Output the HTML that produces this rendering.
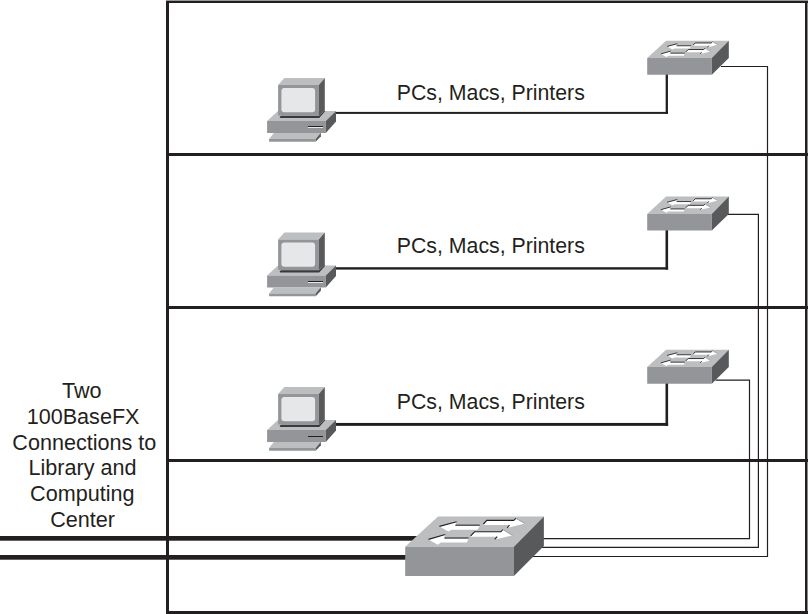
<!DOCTYPE html>
<html><head><meta charset="utf-8"><style>
html,body{margin:0;padding:0;background:#fff;width:808px;height:614px;overflow:hidden}
svg{display:block}
.t{font-family:"Liberation Sans",sans-serif;font-size:21.3px;fill:#231f20}
</style></head><body>
<svg width="808" height="614" viewBox="0 0 808 614">
<rect x="166" y="1" width="3" height="613" fill="#231f20"/>
<rect x="805" y="1" width="2" height="613" fill="#231f20"/>
<rect x="807" y="0" width="1" height="614" fill="#8a8889"/>
<rect x="166" y="0" width="642" height="1" fill="#9a9899"/>
<rect x="166" y="1" width="642" height="2" fill="#231f20"/>
<rect x="166" y="611" width="642" height="3" fill="#231f20"/>
<rect x="166" y="153" width="642" height="3" fill="#231f20"/>
<rect x="166" y="306" width="642" height="3" fill="#231f20"/>
<rect x="166" y="459" width="642" height="3" fill="#231f20"/>
<polyline points="721.00,66.50 767.50,66.50 767.50,556.50 533.00,556.50" fill="none" stroke="#231f20" stroke-width="1.20"/>
<polyline points="727.50,214.40 758.40,214.40 758.40,547.40 540.00,547.40" fill="none" stroke="#231f20" stroke-width="1.20"/>
<polyline points="715.50,380.20 749.50,380.20 749.50,538.70 540.00,538.70" fill="none" stroke="#231f20" stroke-width="1.20"/>
<rect x="0" y="536" width="420" height="4.7" fill="#231f20"/>
<rect x="0" y="555" width="420" height="4.7" fill="#231f20"/>
<rect x="336" y="111.90" width="331.95" height="2.00" fill="#231f20"/>
<rect x="665.65" y="70.00" width="2.30" height="43.90" fill="#231f20"/>
<polygon points="267.10,121.00 278.00,110.90 336.00,111.10 325.80,121.00" fill="#bcbec0"/>
<polygon points="267.10,121.00 325.80,121.00 325.80,133.00 267.10,133.00" fill="#939598"/>
<polygon points="325.80,121.00 336.00,111.10 336.00,121.50 325.80,133.00" fill="#58595b"/>
<rect x="308" y="126.00" width="15" height="1" fill="#231f20"/>
<rect x="308" y="127.00" width="15" height="1" fill="#e8e8e9"/>
<polygon points="279.60,117.10 281.00,115.80 319.00,115.80 324.80,110.50 325.20,111.30 319.20,117.90 280.20,117.90" fill="#3a3a3c"/>
<polygon points="278.10,85.10 284.40,78.10 324.80,78.10 318.80,85.10" fill="#bcbec0"/>
<polygon points="278.10,85.10 318.80,85.10 318.80,115.60 278.10,115.60" fill="#939598"/>
<polygon points="318.80,85.10 324.80,78.10 324.80,110.50 318.80,115.60" fill="#58595b"/>
<rect x="281.40" y="87.90" width="33.7" height="24.3" rx="3" ry="3" fill="#e6e7e8"/>
<polygon points="273.80,133.00 320.90,133.00 315.70,139.00 269.10,139.00" fill="#bcbec0"/>
<polygon points="269.10,139.00 315.70,139.00 315.70,141.70 269.10,141.70" fill="#939598"/>
<polygon points="315.70,139.00 320.90,132.80 320.90,136.20 315.70,141.70" fill="#58595b"/>
<polygon points="647.20,58.10 666.10,40.80 728.80,40.80 711.80,58.10" fill="#bcbec0"/>
<polygon points="647.20,58.10 711.80,58.10 711.80,74.80 647.20,74.80" fill="#939598"/>
<polygon points="711.80,58.10 728.80,40.80 728.80,58.10 711.80,74.80" fill="#58595b"/>
<polygon points="667.13,46.43 677.31,43.73 676.50,46.03 691.18,46.03 689.83,48.39 674.38,48.39 672.58,49.42" fill="#ffffff"/>
<polygon points="693.24,45.57 695.18,42.98 711.16,42.98 712.43,41.83 717.88,44.71 707.45,47.35 708.76,45.63 693.25,45.63" fill="#ffffff"/>
<polygon points="660.90,53.90 670.73,51.09 670.28,53.39 684.78,53.39 683.73,55.69 668.33,55.69 666.53,56.95" fill="#ffffff"/>
<polygon points="685.87,52.35 688.15,49.54 703.78,49.54 704.86,48.21 710.69,51.61 700.31,53.90 701.68,52.35" fill="#ffffff"/>
<polyline points="667.13,46.43 677.31,43.73" fill="none" stroke="#231f20" stroke-width="0.88"/>
<polyline points="676.61,45.74 691.11,45.74" fill="none" stroke="#454547" stroke-width="1.04"/>
<polyline points="693.23,45.05 695.18,42.98 711.16,42.98 712.43,41.83" fill="none" stroke="#231f20" stroke-width="0.88"/>
<polyline points="708.76,45.63 707.45,47.35" fill="none" stroke="#231f20" stroke-width="0.88"/>
<polyline points="660.90,53.90 670.73,51.09" fill="none" stroke="#231f20" stroke-width="0.88"/>
<polyline points="670.33,53.10 684.71,53.10" fill="none" stroke="#454547" stroke-width="1.04"/>
<polyline points="685.85,51.89 688.15,49.54 703.78,49.54 704.86,48.21" fill="none" stroke="#231f20" stroke-width="0.88"/>
<polyline points="701.68,52.35 700.31,53.90" fill="none" stroke="#231f20" stroke-width="0.88"/>
<polyline points="712.61,41.95 717.88,44.71" fill="none" stroke="#77787a" stroke-width="0.48"/>
<polyline points="705.05,48.33 710.69,51.61" fill="none" stroke="#77787a" stroke-width="0.48"/>
<text transform="translate(490.8,99.9) scale(1,1.070)" text-anchor="middle" class="t">PCs, Macs, Printers</text>
<rect x="336" y="267.20" width="332.10" height="2.40" fill="#231f20"/>
<rect x="665.50" y="225.80" width="2.60" height="43.80" fill="#231f20"/>
<polygon points="267.10,275.50 278.00,265.40 336.00,265.60 325.80,275.50" fill="#bcbec0"/>
<polygon points="267.10,275.50 325.80,275.50 325.80,287.50 267.10,287.50" fill="#939598"/>
<polygon points="325.80,275.50 336.00,265.60 336.00,276.00 325.80,287.50" fill="#58595b"/>
<rect x="308" y="281.00" width="15" height="1" fill="#231f20"/>
<rect x="308" y="282.00" width="15" height="1" fill="#e8e8e9"/>
<polygon points="279.60,271.60 281.00,270.30 319.00,270.30 324.80,265.00 325.20,265.80 319.20,272.40 280.20,272.40" fill="#3a3a3c"/>
<polygon points="278.10,239.60 284.40,232.60 324.80,232.60 318.80,239.60" fill="#bcbec0"/>
<polygon points="278.10,239.60 318.80,239.60 318.80,270.10 278.10,270.10" fill="#939598"/>
<polygon points="318.80,239.60 324.80,232.60 324.80,265.00 318.80,270.10" fill="#58595b"/>
<rect x="281.40" y="242.40" width="33.7" height="24.3" rx="3" ry="3" fill="#e6e7e8"/>
<polygon points="273.80,287.50 320.90,287.50 315.70,293.50 269.10,293.50" fill="#bcbec0"/>
<polygon points="269.10,293.50 315.70,293.50 315.70,296.20 269.10,296.20" fill="#939598"/>
<polygon points="315.70,293.50 320.90,287.30 320.90,290.70 315.70,296.20" fill="#58595b"/>
<polygon points="647.20,213.90 666.10,196.60 728.80,196.60 711.80,213.90" fill="#bcbec0"/>
<polygon points="647.20,213.90 711.80,213.90 711.80,230.60 647.20,230.60" fill="#939598"/>
<polygon points="711.80,213.90 728.80,196.60 728.80,213.90 711.80,230.60" fill="#58595b"/>
<polygon points="667.13,202.23 677.31,199.53 676.50,201.83 691.18,201.83 689.83,204.19 674.38,204.19 672.58,205.22" fill="#ffffff"/>
<polygon points="693.24,201.37 695.18,198.78 711.16,198.78 712.43,197.63 717.88,200.51 707.45,203.15 708.76,201.43 693.25,201.43" fill="#ffffff"/>
<polygon points="660.90,209.70 670.73,206.89 670.28,209.19 684.78,209.19 683.73,211.49 668.33,211.49 666.53,212.75" fill="#ffffff"/>
<polygon points="685.87,208.15 688.15,205.34 703.78,205.34 704.86,204.01 710.69,207.41 700.31,209.70 701.68,208.15" fill="#ffffff"/>
<polyline points="667.13,202.23 677.31,199.53" fill="none" stroke="#231f20" stroke-width="0.88"/>
<polyline points="676.61,201.54 691.11,201.54" fill="none" stroke="#454547" stroke-width="1.04"/>
<polyline points="693.23,200.85 695.18,198.78 711.16,198.78 712.43,197.63" fill="none" stroke="#231f20" stroke-width="0.88"/>
<polyline points="708.76,201.43 707.45,203.15" fill="none" stroke="#231f20" stroke-width="0.88"/>
<polyline points="660.90,209.70 670.73,206.89" fill="none" stroke="#231f20" stroke-width="0.88"/>
<polyline points="670.33,208.90 684.71,208.90" fill="none" stroke="#454547" stroke-width="1.04"/>
<polyline points="685.85,207.69 688.15,205.34 703.78,205.34 704.86,204.01" fill="none" stroke="#231f20" stroke-width="0.88"/>
<polyline points="701.68,208.15 700.31,209.70" fill="none" stroke="#231f20" stroke-width="0.88"/>
<polyline points="712.61,197.75 717.88,200.51" fill="none" stroke="#77787a" stroke-width="0.48"/>
<polyline points="705.05,204.13 710.69,207.41" fill="none" stroke="#77787a" stroke-width="0.48"/>
<text transform="translate(490.8,253.0) scale(1,1.070)" text-anchor="middle" class="t">PCs, Macs, Printers</text>
<rect x="336" y="422.95" width="332.10" height="2.90" fill="#231f20"/>
<rect x="665.50" y="379.00" width="2.60" height="46.85" fill="#231f20"/>
<polygon points="267.10,430.00 278.00,419.90 336.00,420.10 325.80,430.00" fill="#bcbec0"/>
<polygon points="267.10,430.00 325.80,430.00 325.80,442.00 267.10,442.00" fill="#939598"/>
<polygon points="325.80,430.00 336.00,420.10 336.00,430.50 325.80,442.00" fill="#58595b"/>
<rect x="308" y="436.00" width="15" height="1" fill="#231f20"/>
<polygon points="279.60,426.10 281.00,424.80 319.00,424.80 324.80,419.50 325.20,420.30 319.20,426.90 280.20,426.90" fill="#3a3a3c"/>
<polygon points="278.10,394.10 284.40,387.10 324.80,387.10 318.80,394.10" fill="#bcbec0"/>
<polygon points="278.10,394.10 318.80,394.10 318.80,424.60 278.10,424.60" fill="#939598"/>
<polygon points="318.80,394.10 324.80,387.10 324.80,419.50 318.80,424.60" fill="#58595b"/>
<rect x="281.40" y="396.90" width="33.7" height="24.3" rx="3" ry="3" fill="#e6e7e8"/>
<polygon points="273.80,442.00 320.90,442.00 315.70,448.00 269.10,448.00" fill="#bcbec0"/>
<polygon points="269.10,448.00 315.70,448.00 315.70,450.70 269.10,450.70" fill="#939598"/>
<polygon points="315.70,448.00 320.90,441.80 320.90,445.20 315.70,450.70" fill="#58595b"/>
<polygon points="647.20,367.10 666.10,349.80 728.80,349.80 711.80,367.10" fill="#bcbec0"/>
<polygon points="647.20,367.10 711.80,367.10 711.80,383.80 647.20,383.80" fill="#939598"/>
<polygon points="711.80,367.10 728.80,349.80 728.80,367.10 711.80,383.80" fill="#58595b"/>
<polygon points="667.13,355.43 677.31,352.73 676.50,355.03 691.18,355.03 689.83,357.39 674.38,357.39 672.58,358.42" fill="#ffffff"/>
<polygon points="693.24,354.57 695.18,351.98 711.16,351.98 712.43,350.83 717.88,353.71 707.45,356.35 708.76,354.63 693.25,354.63" fill="#ffffff"/>
<polygon points="660.90,362.90 670.73,360.09 670.28,362.39 684.78,362.39 683.73,364.69 668.33,364.69 666.53,365.95" fill="#ffffff"/>
<polygon points="685.87,361.35 688.15,358.54 703.78,358.54 704.86,357.21 710.69,360.61 700.31,362.90 701.68,361.35" fill="#ffffff"/>
<polyline points="667.13,355.43 677.31,352.73" fill="none" stroke="#231f20" stroke-width="0.88"/>
<polyline points="676.61,354.74 691.11,354.74" fill="none" stroke="#454547" stroke-width="1.04"/>
<polyline points="693.23,354.05 695.18,351.98 711.16,351.98 712.43,350.83" fill="none" stroke="#231f20" stroke-width="0.88"/>
<polyline points="708.76,354.63 707.45,356.35" fill="none" stroke="#231f20" stroke-width="0.88"/>
<polyline points="660.90,362.90 670.73,360.09" fill="none" stroke="#231f20" stroke-width="0.88"/>
<polyline points="670.33,362.10 684.71,362.10" fill="none" stroke="#454547" stroke-width="1.04"/>
<polyline points="685.85,360.89 688.15,358.54 703.78,358.54 704.86,357.21" fill="none" stroke="#231f20" stroke-width="0.88"/>
<polyline points="701.68,361.35 700.31,362.90" fill="none" stroke="#231f20" stroke-width="0.88"/>
<polyline points="712.61,350.95 717.88,353.71" fill="none" stroke="#77787a" stroke-width="0.48"/>
<polyline points="705.05,357.33 710.69,360.61" fill="none" stroke="#77787a" stroke-width="0.48"/>
<text transform="translate(490.8,408.8) scale(1,1.070)" text-anchor="middle" class="t">PCs, Macs, Printers</text>
<polygon points="405.20,546.70 438.00,516.60 543.90,516.60 513.90,546.70" fill="#bcbec0"/>
<polygon points="405.20,546.70 513.90,546.70 513.90,576.00 405.20,576.00" fill="#939598"/>
<polygon points="513.90,546.70 543.90,516.60 543.90,546.10 513.90,576.00" fill="#58595b"/>
<polygon points="439.40,526.40 456.70,521.70 455.20,525.70 479.90,525.70 477.50,529.80 451.50,529.80 448.40,531.60" fill="#ffffff"/>
<polygon points="483.40,524.90 486.80,520.40 513.70,520.40 515.90,518.40 524.90,523.40 507.20,528.00 509.50,525.00 483.40,525.00" fill="#ffffff"/>
<polygon points="428.50,539.40 445.20,534.50 444.30,538.50 468.70,538.50 466.80,542.50 440.90,542.50 437.80,544.70" fill="#ffffff"/>
<polygon points="470.60,536.70 474.60,531.80 500.90,531.80 502.80,529.50 512.40,535.40 494.80,539.40 497.20,536.70" fill="#ffffff"/>
<polyline points="439.40,526.40 456.70,521.70" fill="none" stroke="#231f20" stroke-width="1.10"/>
<polyline points="455.40,525.20 479.80,525.20" fill="none" stroke="#454547" stroke-width="1.30"/>
<polyline points="483.40,524.00 486.80,520.40 513.70,520.40 515.90,518.40" fill="none" stroke="#231f20" stroke-width="1.10"/>
<polyline points="509.50,525.00 507.20,528.00" fill="none" stroke="#231f20" stroke-width="1.10"/>
<polyline points="428.50,539.40 445.20,534.50" fill="none" stroke="#231f20" stroke-width="1.10"/>
<polyline points="444.40,538.00 468.60,538.00" fill="none" stroke="#454547" stroke-width="1.30"/>
<polyline points="470.60,535.90 474.60,531.80 500.90,531.80 502.80,529.50" fill="none" stroke="#231f20" stroke-width="1.10"/>
<polyline points="497.20,536.70 494.80,539.40" fill="none" stroke="#231f20" stroke-width="1.10"/>
<polyline points="516.20,518.60 524.90,523.40" fill="none" stroke="#77787a" stroke-width="0.60"/>
<polyline points="503.10,529.70 512.40,535.40" fill="none" stroke="#77787a" stroke-width="0.60"/>
<text transform="translate(81.70,397.90) scale(1,1.055)" text-anchor="middle" class="t" style="font-size:21.6px">Two</text>
<text transform="translate(83.10,423.75) scale(1,1.055)" text-anchor="middle" class="t" style="font-size:21.6px">100BaseFX</text>
<text transform="translate(84.30,449.60) scale(1,1.055)" text-anchor="middle" class="t" style="font-size:21.6px">Connections to</text>
<text transform="translate(82.50,475.45) scale(1,1.055)" text-anchor="middle" class="t" style="font-size:21.6px">Library and</text>
<text transform="translate(82.30,501.30) scale(1,1.055)" text-anchor="middle" class="t" style="font-size:21.6px">Computing</text>
<text transform="translate(82.60,527.15) scale(1,1.055)" text-anchor="middle" class="t" style="font-size:21.6px">Center</text>
</svg>
</body></html>
